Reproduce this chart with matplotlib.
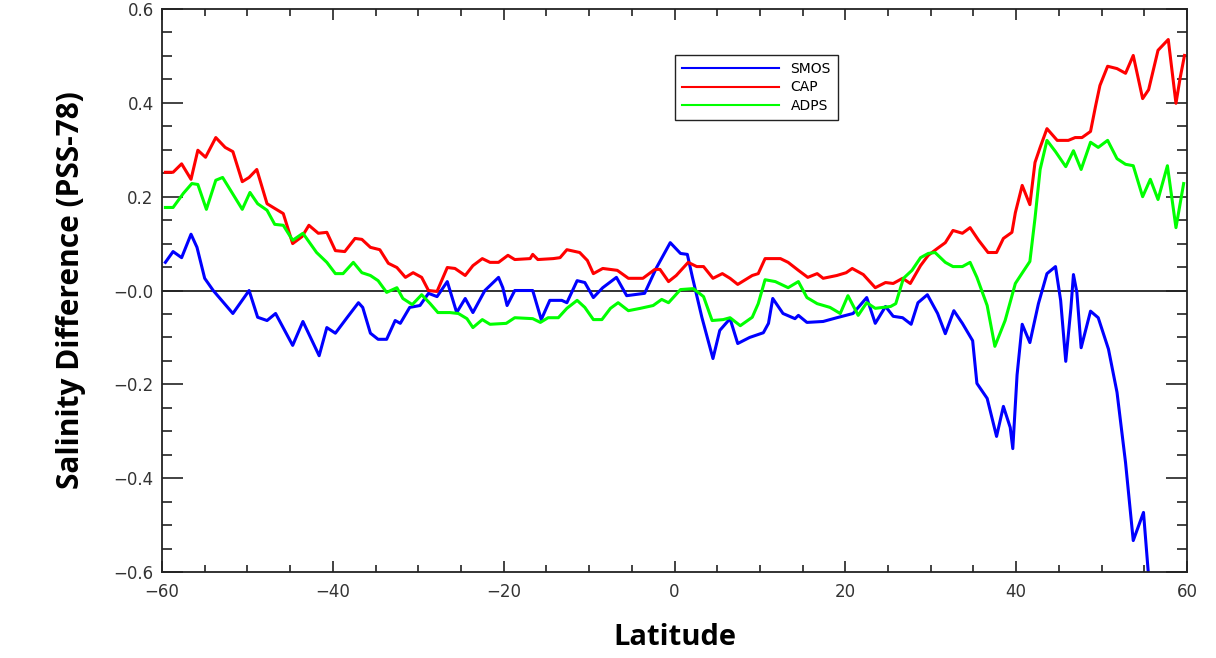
import matplotlib
matplotlib.use("Agg")
import matplotlib.pyplot as plt
from matplotlib.ticker import MultipleLocator, FuncFormatter

# SMOS (blue) - vertices
smos_lat = [-59.6, -58.7, -57.7, -56.6, -55.9, -55.0, -54.0, -51.7, -49.8, -48.8,
            -47.7, -46.7, -44.7, -43.5, -41.6, -40.7, -39.7, -38.3, -37.0, -36.5,
            -35.6, -34.7, -33.7, -32.7, -32.1, -31.0, -29.8, -28.8, -27.8, -26.6,
            -25.5, -24.5, -23.6, -22.2, -20.6, -20.1, -19.6, -18.7, -16.6, -15.6,
            -14.6, -13.2, -12.6, -11.4, -10.5, -9.5, -8.4, -6.8, -5.6, -3.5,
            -2.1, -0.5, 0.7, 1.5, 2.1, 3.2, 4.5, 5.3, 6.5, 7.4,
            8.8, 10.4, 11.0, 11.5, 12.7, 14.1, 14.5, 15.5, 17.4, 19.0,
            20.9, 22.5, 23.5, 24.7, 25.6, 26.7, 27.7, 28.5, 29.6, 30.8,
            31.7, 32.7, 33.7, 34.9, 35.4, 36.6, 37.7, 38.5, 39.3, 39.6,
            40.1, 40.7, 41.6, 42.6, 43.6, 44.6, 45.2, 45.8, 46.4, 46.7,
            47.1, 47.6, 48.7, 49.6, 50.8, 51.8, 52.8, 53.7, 54.9, 55.5, 56.0]
smos_val = [0.060, 0.083, 0.070, 0.120, 0.092, 0.026, 0.000, -0.049, 0.000, -0.057,
            -0.064, -0.049, -0.117, -0.066, -0.139, -0.079, -0.091, -0.057, -0.026, -0.036,
            -0.091, -0.104, -0.104, -0.064, -0.070, -0.036, -0.032, -0.006, -0.013, 0.019,
            -0.047, -0.017, -0.047, 0.000, 0.028, 0.006, -0.032, 0.000, 0.000, -0.062,
            -0.021, -0.021, -0.026, 0.021, 0.017, -0.015, 0.006, 0.028, -0.011, -0.006,
            0.049, 0.102, 0.079, 0.077, 0.028, -0.057, -0.145, -0.085, -0.060, -0.113,
            -0.100, -0.090, -0.070, -0.017, -0.049, -0.060, -0.053, -0.068, -0.066, -0.058,
            -0.049, -0.015, -0.070, -0.034, -0.055, -0.058, -0.072, -0.026, -0.009, -0.049,
            -0.092, -0.043, -0.070, -0.107, -0.198, -0.230, -0.311, -0.247, -0.292, -0.337,
            -0.180, -0.072, -0.111, -0.028, 0.036, 0.051, -0.021, -0.151, -0.038, 0.034,
            -0.004, -0.122, -0.044, -0.058, -0.125, -0.217, -0.367, -0.533, -0.473, -0.610, -0.680]

# CAP (red)
cap_lat = [-59.6, -58.7, -57.7, -56.6, -55.8, -54.9, -53.7, -52.6, -51.7, -50.6,
           -49.8, -48.9, -47.7, -46.8, -45.8, -44.7, -43.6, -42.8, -41.7, -40.7,
           -39.7, -38.6, -37.4, -36.6, -35.6, -34.5, -33.5, -32.5, -31.5, -30.6,
           -29.6, -28.8, -27.8, -26.6, -25.7, -24.5, -23.6, -22.5, -21.6, -20.6,
           -19.5, -18.7, -16.9, -16.6, -16.0, -14.2, -13.4, -12.6, -11.1, -10.2,
           -9.5, -8.4, -6.7, -5.4, -3.7, -2.3, -1.7, -0.7, 0.2, 1.6,
           2.6, 3.4, 4.5, 5.6, 6.5, 7.4, 9.1, 9.8, 10.6, 12.4,
           13.3, 14.5, 15.6, 16.7, 17.4, 19.0, 20.1, 20.8, 22.1, 23.5,
           24.7, 25.6, 26.7, 27.6, 28.8, 29.7, 30.8, 31.7, 32.6, 33.7,
           34.6, 35.6, 36.7, 37.7, 38.5, 39.5, 39.9, 40.7, 41.6, 42.2,
           42.8, 43.6, 44.8, 46.1, 46.9, 47.7, 48.7, 49.3, 49.8, 50.7,
           51.8, 52.8, 53.7, 54.8, 55.5, 56.6, 57.8, 58.7, 59.2, 59.7]
cap_val = [0.252, 0.252, 0.270, 0.237, 0.299, 0.284, 0.326, 0.305, 0.296, 0.232,
           0.241, 0.258, 0.185, 0.175, 0.164, 0.100, 0.115, 0.139, 0.122, 0.124,
           0.085, 0.083, 0.111, 0.109, 0.092, 0.087, 0.058, 0.049, 0.028, 0.038,
           0.028, 0.000, -0.002, 0.049, 0.047, 0.032, 0.053, 0.068, 0.060, 0.060,
           0.075, 0.066, 0.068, 0.077, 0.066, 0.068, 0.070, 0.087, 0.081, 0.064,
           0.036, 0.047, 0.043, 0.026, 0.026, 0.045, 0.045, 0.019, 0.032, 0.060,
           0.051, 0.051, 0.026, 0.036, 0.026, 0.013, 0.032, 0.036, 0.068, 0.068,
           0.060, 0.043, 0.028, 0.036, 0.026, 0.032, 0.038, 0.047, 0.034, 0.006,
           0.017, 0.015, 0.026, 0.015, 0.053, 0.075, 0.090, 0.102, 0.128, 0.122,
           0.134, 0.107, 0.081, 0.081, 0.111, 0.124, 0.166, 0.224, 0.183, 0.273,
           0.305, 0.345, 0.320, 0.320, 0.326, 0.326, 0.339, 0.394, 0.437, 0.478,
           0.473, 0.463, 0.501, 0.409, 0.428, 0.512, 0.535, 0.399, 0.454, 0.501]

# ADPS (green)
adps_lat = [-59.6, -58.7, -57.5, -56.5, -55.8, -54.8, -53.7, -52.9, -50.6, -49.7,
            -48.8, -47.7, -46.8, -45.8, -44.7, -43.5, -41.9, -40.7, -39.7, -38.8,
            -37.6, -36.6, -35.6, -34.7, -33.7, -32.5, -31.8, -30.7, -29.6, -28.6,
            -27.7, -26.3, -25.3, -24.3, -23.6, -22.5, -21.6, -19.7, -18.7, -16.6,
            -15.7, -14.8, -13.6, -12.6, -11.4, -10.5, -9.5, -8.5, -7.5, -6.6,
            -5.4, -4.0, -2.5, -1.5, -0.7, 0.7, 2.2, 3.4, 4.4, 5.7,
            6.5, 7.7, 9.1, 9.8, 10.6, 11.8, 13.3, 14.5, 15.5, 16.7,
            18.2, 19.4, 20.3, 21.5, 22.5, 23.5, 25.3, 25.9, 26.8, 27.8,
            28.8, 29.7, 30.5, 31.7, 32.6, 33.7, 34.6, 35.4, 36.6, 37.5,
            38.7, 39.9, 40.8, 41.6, 42.2, 42.8, 43.6, 44.6, 45.8, 46.7,
            47.6, 48.7, 49.6, 50.7, 51.8, 52.8, 53.7, 54.8, 55.7, 56.6,
            57.7, 58.7, 59.6]
adps_val = [0.177, 0.177, 0.207, 0.228, 0.226, 0.173, 0.235, 0.241, 0.173, 0.209,
            0.185, 0.171, 0.141, 0.139, 0.107, 0.122, 0.081, 0.060, 0.036, 0.036,
            0.060, 0.038, 0.032, 0.021, -0.004, 0.006, -0.017, -0.030, -0.009, -0.028,
            -0.047, -0.047, -0.049, -0.060, -0.079, -0.062, -0.072, -0.070, -0.058, -0.060,
            -0.068, -0.058, -0.058, -0.038, -0.021, -0.036, -0.062, -0.062, -0.038, -0.026,
            -0.043, -0.038, -0.032, -0.019, -0.026, 0.002, 0.004, -0.013, -0.064, -0.062,
            -0.058, -0.075, -0.057, -0.028, 0.023, 0.019, 0.006, 0.019, -0.015, -0.028,
            -0.036, -0.049, -0.011, -0.053, -0.026, -0.038, -0.034, -0.028, 0.026, 0.043,
            0.070, 0.079, 0.081, 0.060, 0.051, 0.051, 0.060, 0.028, -0.032, -0.119,
            -0.064, 0.015, 0.040, 0.062, 0.154, 0.258, 0.320, 0.296, 0.264, 0.298,
            0.258, 0.316, 0.305, 0.320, 0.281, 0.269, 0.266, 0.200, 0.237, 0.194,
            0.266, 0.134, 0.228]

fig = plt.figure(figsize=(12.16, 6.58), dpi=100)
ax = fig.add_axes([0.1332, 0.1307, 0.8430, 0.8556])

ax.axhline(0, color="#222222", lw=1.3, zorder=1)
ax.plot(smos_lat, smos_val, color="#0000ff", lw=2.2, label="SMOS")
ax.plot(cap_lat, cap_val, color="#ff0000", lw=2.2, label="CAP")
ax.plot(adps_lat, adps_val, color="#00ff00", lw=2.2, label="ADPS")

ax.set_xlim(-60, 60)
ax.set_ylim(-0.6, 0.6)

ax.xaxis.set_major_locator(MultipleLocator(20))
ax.xaxis.set_minor_locator(MultipleLocator(5))
ax.yaxis.set_major_locator(MultipleLocator(0.2))
ax.yaxis.set_minor_locator(MultipleLocator(0.05))


def yfmt(v, pos):
    if abs(v) < 1e-9:
        return "\u22120.0"
    return f"{v:.1f}".replace("-", "\u2212")


def xfmt(v, pos):
    return f"{v:.0f}".replace("-", "\u2212")


ax.yaxis.set_major_formatter(FuncFormatter(yfmt))
ax.xaxis.set_major_formatter(FuncFormatter(xfmt))

ax.tick_params(axis="both", which="both", direction="in", top=True, right=True,
               color="#222222", width=1.2, labelsize=12, labelcolor="#333333")
ax.tick_params(axis="x", which="major", length=8, pad=8)
ax.tick_params(axis="x", which="minor", length=5)
ax.tick_params(axis="y", which="major", length=15, pad=6)
ax.tick_params(axis="y", which="minor", length=7.5)

for s in ax.spines.values():
    s.set_linewidth(1.3)
    s.set_color("#222222")

ax.set_ylabel("Salinity Difference (PSS-78)", fontsize=21.5, fontweight="bold",
              family="Open Sans", labelpad=20)
ax.set_xlabel("Latitude", fontsize=21, fontweight="bold", family="Open Sans",
              labelpad=16)

leg = ax.legend(loc="upper left", bbox_to_anchor=(0.494, 0.93), fontsize=10,
                handlelength=7.0, handletextpad=0.8, borderpad=0.5,
                labelspacing=0.3, fancybox=False, framealpha=1,
                edgecolor="#222222")
leg.get_frame().set_linewidth(1.0)
for line in leg.get_lines():
    line.set_linewidth(1.5)

fig.savefig("out.png", dpi=100)
